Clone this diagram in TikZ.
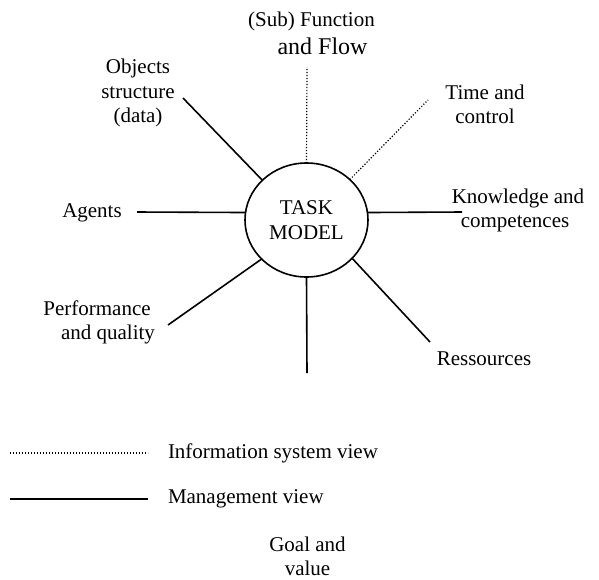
\documentclass[tikz,border=0pt]{standalone}
\usepackage{fontspec}
\setmainfont{Liberation Serif}
\usepackage{tikz}
\usetikzlibrary{shapes.geometric}

\begin{document}
\begin{tikzpicture}[x=1pt,y=-1pt,line cap=rect]
				\tikzset{
					mgview/.style={line width=1.6pt, line cap=butt},
					isview/.style={line width=1.2pt, line cap=butt, dash pattern=on 1.2pt off 1.8pt},
					lbl/.style={inner sep=0, outer sep=0, align=center, font=\fontsize{21pt}{24.5pt}\selectfont},
				}
				\useasboundingbox (0,0) rectangle (599,579);
				\node[ellipse, draw, line width=1.6pt, minimum width=123pt, minimum height=114pt, inner sep=0, lbl] (task) at (306.5,220.0) {TASK\\MODEL};
				% free ends of the spokes
				\coordinate (funcEnd) at (307.0,67.0);
				\coordinate (objEnd) at (183.0,98.0);
				\coordinate (timeEnd) at (428.0,100.0);
				\coordinate (knowEnd) at (462.0,212.0);
				\coordinate (agentEnd) at (137.0,212.0);
				\coordinate (perfEnd) at (168.0,325.0);
				\coordinate (goalEnd) at (307.0,373.0);
				\coordinate (resEnd) at (430.0,342.0);
				\draw [isview]  (task.north) -- (funcEnd) ;
				\draw [isview]  (task.43) -- (timeEnd) ;
				\draw [mgview]  (task.138) -- (objEnd) ;
				\draw [mgview]  (task.7) -- (knowEnd) ;
				\draw [mgview]  (task.173) -- (agentEnd) ;
				\draw [mgview]  (task.221) -- (perfEnd) ;
				\draw [mgview]  (task.south) -- (goalEnd) ;
				\draw [mgview]  (task.320) -- (resEnd) ;
				\node[lbl] (func) at (311.5,21.0) {(Sub) Function};
				\node[lbl, font=\fontsize{24pt}{28pt}\selectfont] (flow) at (322.5,46.0) {and Flow};
				\node[lbl] (obj) at (138.0,93.0) {Objects\\structure\\(data)};
				\node[lbl] (time) at (485.0,104.5) {Time and\\control};
				\node[lbl] (know) at (518.0,210.5) {Knowledge and\\\hspace*{-6pt}competences};
				\node[lbl] (agent) at (92.0,213.0) {Agents};
				\node[lbl] (perf) at (97.0,322.5) {Performance\\\hspace*{22pt}and quality};
				\node[lbl] (res) at (484.0,359.0) {Ressources};
				\node[lbl] (goal) at (307.5,556.5) {Goal and\\value};
				% legend
				\coordinate (isA) at (10.0,453.0);
				\coordinate (isB) at (148.0,453.0);
				\coordinate (mgA) at (10.0,499.0);
				\coordinate (mgB) at (148.0,499.0);
				\draw [isview]  (isA) -- (isB) ;
				\draw [mgview]  (mgA) -- (mgB) ;
				\node[lbl, anchor=west] (isText) at (168.0,453.0) {Information system view};
				\node[lbl, anchor=west] (mgText) at (168.0,499.0) {Management view};
			\end{tikzpicture}
\end{document}
